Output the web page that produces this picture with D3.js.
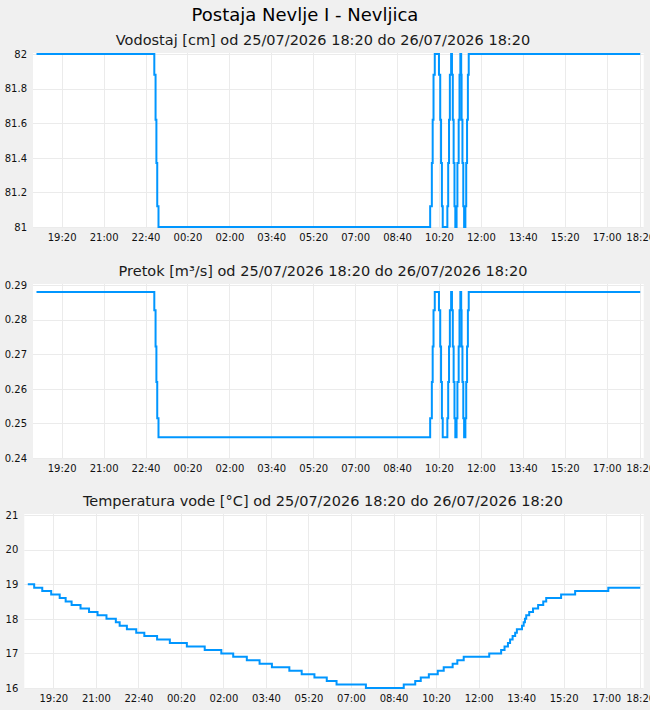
<!DOCTYPE html>
<html>
<head>
<meta charset="utf-8">
<script src="https://cdn.jsdelivr.net/npm/d3@7"></script>
<style>
  body { margin: 0; background: #f0f0f0; }
  svg { display: block; font-family: "DejaVu Sans", sans-serif; }
</style>
</head>
<body>
<svg id="chart" width="650" height="710"></svg>
<script>
const startTime = "2026-07-25 18:20";
const endTime = "2026-07-26 18:20";

const tickLabels = ["19:20", "21:00", "22:40", "00:20", "02:00", "03:40", "05:20", "07:00", "08:40", "10:20", "12:00", "13:40", "15:20", "17:00", "18:20"];

// level (cm), change points, held until the next one
const levelTimes = [
  "2026-07-25 18:20", "2026-07-25 23:01", "2026-07-25 23:04", "2026-07-25 23:06", "2026-07-25 23:08", "2026-07-25 23:11",
  "2026-07-26 09:59", "2026-07-26 10:03", "2026-07-26 10:05", "2026-07-26 10:07", "2026-07-26 10:10",
  "2026-07-26 10:20", "2026-07-26 10:23", "2026-07-26 10:25", "2026-07-26 10:27", "2026-07-26 10:29",
  "2026-07-26 10:40", "2026-07-26 10:42", "2026-07-26 10:44", "2026-07-26 10:46", "2026-07-26 10:49",
  "2026-07-26 10:51", "2026-07-26 10:53", "2026-07-26 10:55", "2026-07-26 10:57", "2026-07-26 10:59",
  "2026-07-26 11:02", "2026-07-26 11:04", "2026-07-26 11:07", "2026-07-26 11:09", "2026-07-26 11:11",
  "2026-07-26 11:13", "2026-07-26 11:14", "2026-07-26 11:16", "2026-07-26 11:18", "2026-07-26 11:20",
  "2026-07-26 11:23", "2026-07-26 11:25", "2026-07-26 11:27", "2026-07-26 11:29", "2026-07-26 11:31",
  "2026-07-26 18:20",
];
const levelValues = [
  82, 81.88, 81.62, 81.37, 81.12, 81,
  81.12, 81.37, 81.62, 81.88, 82,
  81.88, 81.62, 81.37, 81.12, 81,
  81.12, 81.37, 81.62, 81.88, 82,
  81.88, 81.62, 81.37, 81.12, 81,
  81.12, 81.37, 81.62, 81.88, 82,
  81.88, 81.62, 81.37, 81.12, 81,
  81.12, 81.37, 81.62, 81.88, 82,
  82,
];
const flowValues = [
  0.288, 0.2827, 0.2722, 0.262, 0.2515, 0.246,
  0.2515, 0.262, 0.2722, 0.2827, 0.288,
  0.2827, 0.2722, 0.262, 0.2515, 0.246,
  0.2515, 0.262, 0.2722, 0.2827, 0.288,
  0.2827, 0.2722, 0.262, 0.2515, 0.246,
  0.2515, 0.262, 0.2722, 0.2827, 0.288,
  0.2827, 0.2722, 0.262, 0.2515, 0.246,
  0.2515, 0.262, 0.2722, 0.2827, 0.288,
  0.288,
];

const tempTimes = [
  "2026-07-25 18:20", "2026-07-25 18:35", "2026-07-25 18:54", "2026-07-25 19:15", "2026-07-25 19:35", "2026-07-25 19:49",
  "2026-07-25 20:03", "2026-07-25 20:24", "2026-07-25 20:44", "2026-07-25 21:04", "2026-07-25 21:25", "2026-07-25 21:47",
  "2026-07-25 21:56", "2026-07-25 22:13", "2026-07-25 22:35", "2026-07-25 22:54", "2026-07-25 23:24", "2026-07-25 23:54",
  "2026-07-26 00:34", "2026-07-26 01:16", "2026-07-26 01:55", "2026-07-26 02:23", "2026-07-26 02:55", "2026-07-26 03:25",
  "2026-07-26 03:54", "2026-07-26 04:35", "2026-07-26 05:04", "2026-07-26 05:34", "2026-07-26 06:03", "2026-07-26 06:26",
  "2026-07-26 07:35", "2026-07-26 09:04", "2026-07-26 09:31", "2026-07-26 09:44", "2026-07-26 10:03", "2026-07-26 10:24",
  "2026-07-26 10:38", "2026-07-26 10:59", "2026-07-26 11:10", "2026-07-26 11:25", "2026-07-26 12:25", "2026-07-26 12:53",
  "2026-07-26 13:01", "2026-07-26 13:09", "2026-07-26 13:14", "2026-07-26 13:20", "2026-07-26 13:26", "2026-07-26 13:30",
  "2026-07-26 13:42", "2026-07-26 13:46", "2026-07-26 13:49", "2026-07-26 13:52", "2026-07-26 13:59", "2026-07-26 14:08",
  "2026-07-26 14:20", "2026-07-26 14:32", "2026-07-26 14:39", "2026-07-26 15:14", "2026-07-26 15:47", "2026-07-26 17:05",
  "2026-07-26 18:20",
];
const tempValues = [
  19.0, 18.9, 18.8, 18.7, 18.6, 18.5,
  18.4, 18.3, 18.2, 18.1, 18.0, 17.9,
  17.8, 17.7, 17.6, 17.5, 17.4, 17.3,
  17.2, 17.1, 17.0, 16.9, 16.8, 16.7,
  16.6, 16.5, 16.4, 16.3, 16.2, 16.1,
  16.0, 16.1, 16.2, 16.3, 16.4, 16.5,
  16.6, 16.7, 16.8, 16.9, 17.0, 17.1,
  17.2, 17.3, 17.4, 17.5, 17.6, 17.7,
  17.8, 17.9, 18.0, 18.1, 18.2, 18.3,
  18.4, 18.5, 18.6, 18.7, 18.8, 18.9,
  18.9,
];

const levelTicks = [81, 81.2, 81.4, 81.6, 81.8, 82];
const flowTicks = [0.24, 0.25, 0.26, 0.27, 0.28, 0.29];
const tempTicks = [16, 17, 18, 19, 20, 21];

const parse = d3.timeParse("%Y-%m-%d %H:%M");
const lineColor = "#0096ff";
const gridColor = "#ebebeb";

const svg = d3.select("#chart");

svg
  .append("text")
  .attr("x", 305)
  .attr("y", 21)
  .attr("text-anchor", "middle")
  .attr("font-size", 18)
  .attr("fill", "#000")
  .text("Postaja Nevlje I - Nevljica");

const drawPanel = (config) => {
  const { left, right, top, bottom, title, times, values, yDomain, yTicks, yFormat } = config;

  const g = svg.append("g");

  const x = d3.scaleTime().domain([parse(startTime), parse(endTime)]).range([left, right]);
  const y = d3.scaleLinear().domain(yDomain).range([bottom, top]);

  const boxLeft = left - 3.5;
  const boxRight = right + 3.5;

  g.append("rect")
    .attr("x", boxLeft)
    .attr("y", top - 1)
    .attr("width", boxRight - boxLeft)
    .attr("height", bottom - top + 2)
    .attr("fill", "#fff");

  g.append("text")
    .attr("x", 323)
    .attr("y", top - 9)
    .attr("text-anchor", "middle")
    .attr("font-size", 14.5)
    .attr("fill", "#1a1a1a")
    .text(title);

  // x ticks: every 100 minutes from 19:20, plus the end; the first three fall on the 25th
  const xTicks = tickLabels.map((lbl, i) => parse(`${i < 3 ? "2026-07-25" : "2026-07-26"} ${lbl}`));

  g.append("g")
    .selectAll("line")
    .data(xTicks)
    .join("line")
    .attr("x1", (d) => Math.round(x(d)) + 0.5)
    .attr("x2", (d) => Math.round(x(d)) + 0.5)
    .attr("y1", top - 1)
    .attr("y2", bottom + 1)
    .attr("stroke", gridColor);

  g.append("g")
    .selectAll("line")
    .data(yTicks)
    .join("line")
    .attr("x1", boxLeft)
    .attr("x2", boxRight)
    .attr("y1", (d) => Math.round(y(d)) + 0.5)
    .attr("y2", (d) => Math.round(y(d)) + 0.5)
    .attr("stroke", gridColor);

  const xAxis = g
    .append("g")
    .attr("transform", `translate(0,${bottom + 1})`)
    .call(d3.axisBottom(x).tickValues(xTicks).tickFormat((d, i) => tickLabels[i]).tickSize(0).tickPadding(6));
  xAxis.select(".domain").remove();
  xAxis.selectAll("text").attr("font-size", 10).attr("font-family", "DejaVu Sans").attr("fill", "#111");

  const yAxis = g
    .append("g")
    .attr("transform", `translate(${boxLeft},0)`)
    .call(d3.axisLeft(y).tickValues(yTicks).tickFormat(yFormat).tickSize(0).tickPadding(6));
  yAxis.select(".domain").remove();
  yAxis.selectAll("text").attr("font-size", 10).attr("font-family", "DejaVu Sans").attr("fill", "#111");

  const data = times.map((t, i) => ({ time: parse(t), value: values[i] }));

  const line = d3
    .line()
    .curve(d3.curveStepAfter)
    .x((d) => x(d.time))
    .y((d) => y(d.value));

  g.append("path")
    .datum(data)
    .attr("fill", "none")
    .attr("stroke", lineColor)
    .attr("stroke-width", 2)
    .attr("d", line);
};

drawPanel({
  left: 36.5,
  right: 640.2,
  top: 54,
  bottom: 227,
  title: "Vodostaj [cm] od 25/07/2026 18:20 do 26/07/2026 18:20",
  times: levelTimes,
  values: levelValues,
  yDomain: [81, 82],
  yTicks: levelTicks,
  yFormat: (d) => String(+d.toFixed(1)),
});

drawPanel({
  left: 36.5,
  right: 640.2,
  top: 285,
  bottom: 458,
  title: "Pretok [m³/s] od 25/07/2026 18:20 do 26/07/2026 18:20",
  times: levelTimes,
  values: flowValues,
  yDomain: [0.24, 0.29],
  yTicks: flowTicks,
  yFormat: d3.format(".2f"),
});

drawPanel({
  left: 27.8,
  right: 640.2,
  top: 515,
  bottom: 688,
  title: "Temperatura vode [°C] od 25/07/2026 18:20 do 26/07/2026 18:20",
  times: tempTimes,
  values: tempValues,
  yDomain: [16, 21],
  yTicks: tempTicks,
  yFormat: d3.format("d"),
});
</script>
</body>
</html>
